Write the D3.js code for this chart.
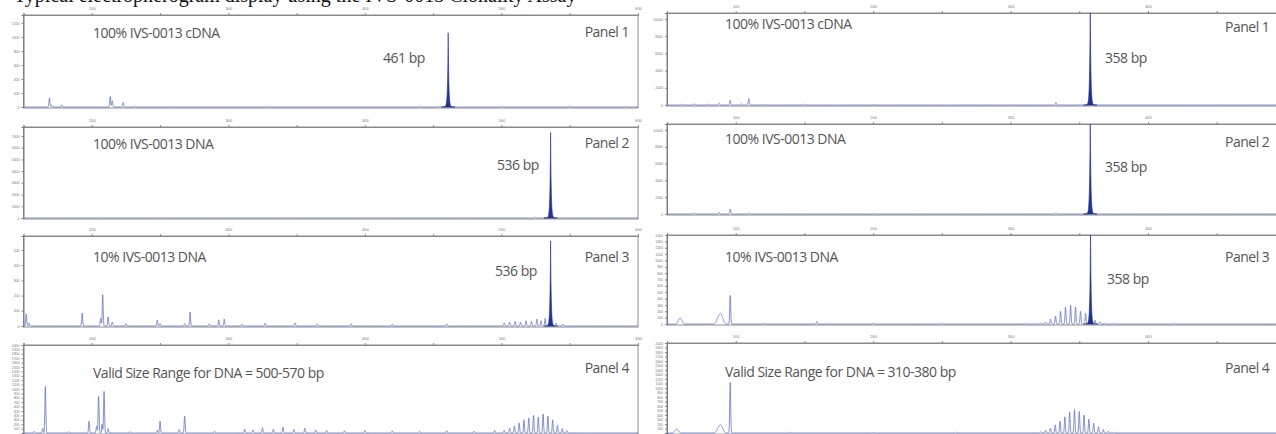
<!DOCTYPE html>
<html>
<head>
<meta charset="utf-8">
<script src="https://cdn.jsdelivr.net/npm/d3@7"></script>
<style>
html, body { margin: 0; padding: 0; background: #fff; overflow: hidden; }
svg { display: block; }
</style>
</head>
<body>
<svg id="chart" width="1276" height="434"></svg>
<script>
// size axis ticks (bp)
var leftSizeTicks = [200, 300, 400, 500, 600];
var leftMinorTicks = [150, 250, 350, 450, 550];
var rightSizeTicks = [100, 200, 300, 400];
var rightMinorTicks = [50, 150, 250, 350, 450];

// panel texts
var captionText = "Typical electropherogram display using the IVS-0013 Clonality Assay";
var leftTitles = ["100% IVS-0013 cDNA", "100% IVS-0013 DNA", "10% IVS-0013 DNA", "Valid Size Range for DNA = 500-570 bp"];
var rightTitles = ["100% IVS-0013 cDNA", "100% IVS-0013 DNA", "10% IVS-0013 DNA", "Valid Size Range for DNA = 310-380 bp"];
var leftSizeLabels = ["461 bp", "536 bp", "536 bp", ""];
var rightSizeLabels = ["358 bp", "358 bp", "358 bp", ""];
var panelTags = ["Panel 1", "Panel 2", "Panel 3", "Panel 4"];

// signal range of each panel (RFU)
var leftYMax = [1313, 7770, 592, 2000];
var rightYMax = [10700, 10700, 1400, 2000];
var leftYStep = [200, 1000, 100, 100];
var rightYStep = [2000, 2000, 100, 100];

// peaks: [size bp, height RFU, optional width bp]
var leftCdnaPeaks = [[169,130],[170.5,25],[178,30],[213.5,150],[215,90],[223,65],[232,12],[260,8],[330,10],[440,10],[455,15],[500,12],[550,15],[590,8]];
var leftCdnaMain = [[461,1060]];

var leftDnaPeaks = [[170,40],[205,50],[240,30],[300,40],[350,30],[420,30],[480,40],[525,60],[540,50]];
var leftDnaMain = [[536,7300]];

var leftTenPeaks = [[152,80],[154,20],[193,85],[206.5,50],[208,205],[212,60],[215,25],[225,15],[248,40],[250,15],[268,15],[272,92],[286,15],[293,40],[297,45],[310,12],[327,20],[349,20],[365,15],[390,15],[420,12],[460,15],[502,20],[506,25],[510,30],[514,25],[518,35],[522,30],[526,45],[529,35],[532,50],[540,20],[545,12]];
var leftTenMain = [[536,560]];

var leftRangePeaks = [[158,40],[164,100],[166,1060],[183,30],[198,270],[203.5,150],[205,830],[207.5,200],[209,945],[212,100],[228,30],[248,60],[250,270],[264,80],[268,380],[290,40],[312,90],[318,70],[325,120],[333,90],[340,130],[348,80],[356,110],[364,70],[372,60],[385,50],[400,60],[420,50],[440,40],[460,50],[480,40],[495,60],[502,60],[506,110],[509.5,160],[513,230],[516.5,300],[520,340],[523.5,400],[527,360],[530.5,430],[534,380],[537.5,300],[541,180],[544.5,100],[548,50]];
var leftRangeMain = [];

var rightCdnaPeaks = [[60,100],[70,150],[80,120],[88,200],[96,550],[104,150],[109.5,750],[120,100],[150,80],[200,60],[300,80],[333,300],[336,100],[350,60]];
var rightCdnaMain = [[358,12000]];

var rightDnaPeaks = [[70,100],[88,200],[96,600],[110,150],[200,60],[333,150]];
var rightDnaMain = [[358,12000]];

var rightTenPeaks = [[59.5,95,1.2],[87.5,100,1.2],[89.5,130,1.2],[96,450],[120,15],[159,40],[200,15],[250,15],[310,10],[318.2,10],[321.8,15],[325.5,30],[329.1,78],[332.7,125],[336.4,200],[340,265],[343.7,295],[347.3,265],[350.9,200],[354.6,170],[361.5,60],[365,35],[368.5,15],[375,10],[420,10]];
var rightTenMain = [[358.2,1500]];

var rightRangePeaks = [[57,90,1.2],[87.5,100,1.2],[89.5,150,1.2],[96,1120],[140,20],[200,20],[260,20],[322,30],[325.5,60],[329,110],[332.5,180],[336,260],[339.5,360],[343,470],[346.5,520],[350,480],[353.5,400],[357,310],[360.5,220],[364,140],[367.5,80],[371,40],[375,20]];
var rightRangeMain = [];

var leftPeaks = [leftCdnaPeaks, leftDnaPeaks, leftTenPeaks, leftRangePeaks];
var leftMain = [leftCdnaMain, leftDnaMain, leftTenMain, leftRangeMain];
var rightPeaks = [rightCdnaPeaks, rightDnaPeaks, rightTenPeaks, rightRangePeaks];
var rightMain = [rightCdnaMain, rightDnaMain, rightTenMain, rightRangeMain];

var svg = d3.select("#chart");
var font = "'Open Sans', sans-serif";

var cols = [
  {x: d3.scaleLinear().domain([150, 600]).range([23.5, 638]), frameR: 638, ticks: leftSizeTicks, minor: leftMinorTicks,
   rows: [[15,108],[127,219],[236,327],[345,434]], titleX: 93, titleY: [38,149,262,378],
   sizeX: [383,497,495,0], sizeY: [63,170,276,0], tagX: 629, tagAnchor: "end", tagY: [37,148,262,373],
   titles: leftTitles, sizes: leftSizeLabels, yMax: leftYMax, yStep: leftYStep, peaks: leftPeaks, main: leftMain},
  {x: d3.scaleLinear().domain([50, 500]).range([667, 1285.4]), frameR: 1285, ticks: rightSizeTicks, minor: rightMinorTicks,
   rows: [[13,106],[124,215],[235,325],[343,434]], titleX: 725, titleY: [29,144,262,377],
   sizeX: [1105,1105,1107,0], sizeY: [63,172,284,0], tagX: 1225, tagAnchor: "start", tagY: [32,147,262,373],
   titles: rightTitles, sizes: rightSizeLabels, yMax: rightYMax, yStep: rightYStep, peaks: rightPeaks, main: rightMain}
];

function signal(peaks, bp) {
  var s = 0;
  peaks.forEach(function(p) {
    var w = p[2] || 0.35;
    var d = (bp - p[0]) / w;
    if (Math.abs(d) < 6) s += p[1] * Math.exp(-0.5 * d * d);
  });
  return s;
}
function spike(peaks, bp) {
  var s = 0;
  peaks.forEach(function(p) {
    var d = Math.abs(bp - p[0]) / 0.45;
    if (d < 10) s += p[1] * Math.exp(-d);
  });
  return s;
}

// caption line, mostly above the top edge
svg.append("text").attr("x", 14).attr("y", 2).text(captionText)
  .attr("font-family", "'Liberation Serif', serif").attr("font-size", 20).attr("fill", "#111");

cols.forEach(function(c, ci) {
  var dom = c.x.domain();
  var samples = d3.range(dom[0], dom[1], 0.1);
  c.rows.forEach(function(r, i) {
    var top = r[0], bottom = r[1];
    var y = d3.scaleLinear().domain([0, c.yMax[i]]).range([bottom - 1, top]);
    var g = svg.append("g");
    var clipId = "clip" + ci + "_" + i;
    svg.append("clipPath").attr("id", clipId).append("rect")
      .attr("x", c.x.range()[0]).attr("y", top).attr("width", c.frameR - c.x.range()[0]).attr("height", bottom - top);

    g.append("rect").attr("x", c.x.range()[0]).attr("y", top)
      .attr("width", c.frameR - c.x.range()[0]).attr("height", bottom - top)
      .attr("fill", "#fff").attr("stroke", "#8c8c8c").attr("stroke-width", 1);

    // top size axis
    var ax = g.append("g").attr("transform", "translate(0," + top + ")")
      .call(d3.axisTop(c.x).tickValues(c.ticks).tickSize(2).tickFormat(d3.format("d")));
    g.append("g").attr("transform", "translate(0," + top + ")")
      .call(d3.axisTop(c.x).tickValues(c.minor).tickSize(2).tickFormat(""))
      .call(function(s) { s.select(".domain").remove(); });
    ax.selectAll("text").attr("font-size", 4).attr("fill", "#777").attr("dy", "0.1em");
    g.selectAll(".domain").attr("stroke", "#888");
    g.selectAll(".tick line").attr("stroke", "#888");

    // left signal axis (bottom of panel 4 is cut by the edge)
    var y0 = r[1] >= 434 ? c.yStep[i] : 0;
    var yt = d3.range(y0, c.yMax[i] + 1, c.yStep[i]);
    var ay = g.append("g").attr("transform", "translate(" + c.x.range()[0] + ",0)")
      .call(d3.axisLeft(y).tickValues(yt).tickSize(2).tickPadding(2).tickFormat(d3.format("d")));
    ay.selectAll("text").attr("font-size", 3.5).attr("fill", "#777");
    ay.select(".domain").attr("stroke", "#777");
    ay.selectAll(".tick line").attr("stroke", "#888");

    // trace
    var pts = samples.map(function(b) { return [b, signal(c.peaks[i], b)]; });
    var line = d3.line().x(function(d) { return c.x(d[0]); }).y(function(d) { return y(d[1]); });
    g.append("path").datum(pts).attr("clip-path", "url(#" + clipId + ")")
      .attr("d", line).attr("fill", "none").attr("stroke", "#6373c2").attr("stroke-width", 0.8);

    if (c.main[i].length) {
      var mp = samples.filter(function(b) { return Math.abs(b - c.main[i][0][0]) < 5; })
        .map(function(b) { return [b, spike(c.main[i], b)]; });
      var area = d3.area().x(function(d) { return c.x(d[0]); }).y0(y(0)).y1(function(d) { return y(d[1]); });
      g.append("path").datum(mp).attr("clip-path", "url(#" + clipId + ")")
        .attr("d", area).attr("fill", "#22338f").attr("stroke", "#22338f").attr("stroke-width", 0.6);
    }

    // texts
    g.append("text").attr("x", c.titleX).attr("y", c.titleY[i]).text(c.titles[i])
      .attr("font-family", font).attr("font-size", 14).attr("letter-spacing", -0.5).attr("fill", "#555");
    if (c.sizes[i]) {
      g.append("text").attr("x", c.sizeX[i]).attr("y", c.sizeY[i]).text(c.sizes[i])
        .attr("font-family", font).attr("font-size", 14).attr("letter-spacing", -0.5).attr("fill", "#555");
    }
    g.append("text").attr("x", c.tagX).attr("y", c.tagY[i]).text(panelTags[i]).attr("text-anchor", c.tagAnchor)
      .attr("font-family", font).attr("font-size", 14).attr("letter-spacing", -0.5).attr("fill", "#555");
  });
});
</script>
</body>
</html>
